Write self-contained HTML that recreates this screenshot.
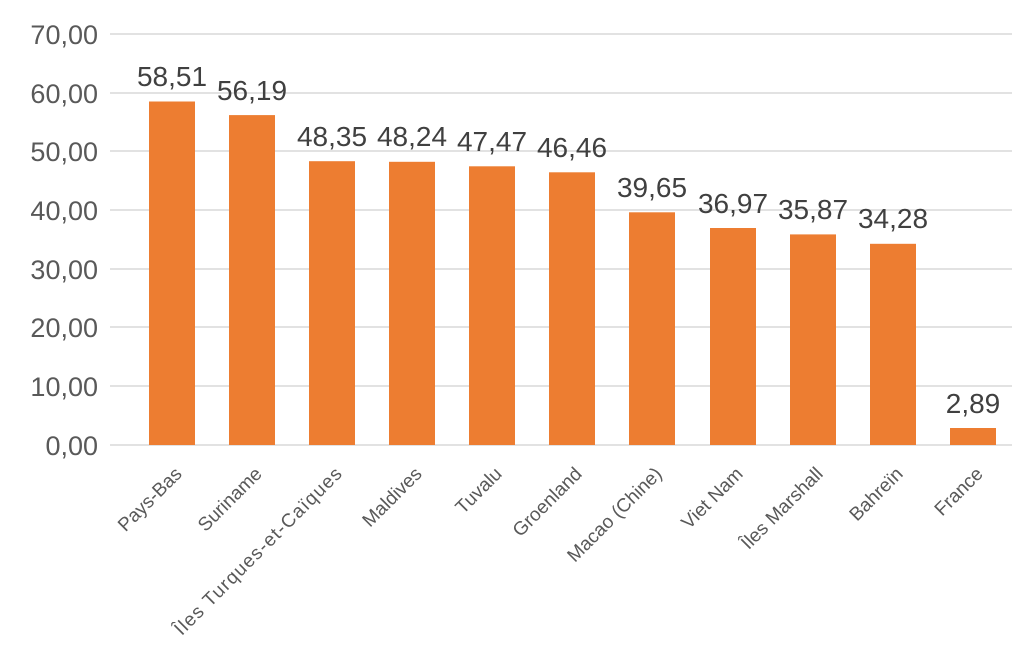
<!DOCTYPE html>
<html><head><meta charset="utf-8"><style>body{margin:0;background:#fff}</style></head><body>
<svg width="1023" height="643" xmlns="http://www.w3.org/2000/svg" font-family="Liberation Sans, sans-serif">
<g stroke="#d9d9d9" stroke-width="1.5">
<line x1="110" x2="1012" y1="34" y2="34"/><line x1="110" x2="1012" y1="93" y2="93"/>
<line x1="110" x2="1012" y1="151" y2="151"/><line x1="110" x2="1012" y1="210" y2="210"/>
<line x1="110" x2="1012" y1="269" y2="269"/><line x1="110" x2="1012" y1="327" y2="327"/>
<line x1="110" x2="1012" y1="386" y2="386"/><line x1="110" x2="1012" y1="445" y2="445"/>
</g>
<g fill="#595959" font-size="27" text-anchor="end">
<text x="98" y="44">70,00</text><text x="98" y="103">60,00</text><text x="98" y="161">50,00</text>
<text x="98" y="220">40,00</text><text x="98" y="279">30,00</text><text x="98" y="337">20,00</text>
<text x="98" y="396">10,00</text><text x="98" y="455">0,00</text>
</g>
<g fill="#ED7D31">
<rect x="149" y="101.5" width="46" height="343.5"/>
<rect x="229" y="115.1" width="46" height="329.9"/>
<rect x="309" y="161.2" width="46" height="283.8"/>
<rect x="389" y="161.8" width="46" height="283.2"/>
<rect x="469" y="166.3" width="46" height="278.7"/>
<rect x="549" y="172.3" width="46" height="272.7"/>
<rect x="629" y="212.3" width="46" height="232.7"/>
<rect x="710" y="228.0" width="46" height="217.0"/>
<rect x="790" y="234.4" width="46" height="210.6"/>
<rect x="870" y="243.8" width="46" height="201.2"/>
<rect x="950" y="428.0" width="46" height="17.0"/>
</g>
<g fill="#404040" font-size="28" text-anchor="middle">
<text x="172" y="86">58,51</text><text x="252" y="100">56,19</text><text x="332" y="146">48,35</text>
<text x="412" y="146">48,24</text><text x="492" y="151">47,47</text><text x="572" y="157">46,46</text>
<text x="652" y="197">39,65</text><text x="733" y="213">36,97</text><text x="813" y="219">35,87</text>
<text x="893" y="228">34,28</text><text x="973" y="413">2,89</text>
</g>
<g fill="#595959" font-size="19" text-anchor="end">
<text transform="translate(183,475) rotate(-45)">Pays-Bas</text>
<text transform="translate(263,475) rotate(-45)">Suriname</text>
<text transform="translate(343,475) rotate(-45)" textLength="228" lengthAdjust="spacing">Îles Turques-et-Caïques</text>
<text transform="translate(423,475) rotate(-45)">Maldives</text>
<text transform="translate(503,475) rotate(-45)">Tuvalu</text>
<text transform="translate(583,475) rotate(-45)">Groenland</text>
<text transform="translate(663,475) rotate(-45)">Macao (Chine)</text>
<text transform="translate(744,475) rotate(-45)">Viet Nam</text>
<text transform="translate(824,475) rotate(-45)">Îles Marshall</text>
<text transform="translate(904,475) rotate(-45)">Bahreïn</text>
<text transform="translate(984,475) rotate(-45)">France</text>
</g>
</svg>
</body></html>
